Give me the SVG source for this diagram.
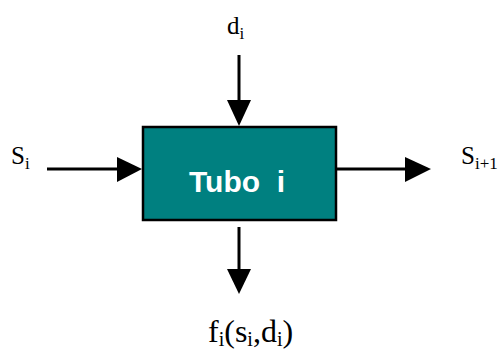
<svg xmlns="http://www.w3.org/2000/svg" width="502" height="356" viewBox="0 0 502 356">
<style>
.lbl{font-family:"Liberation Serif","Times New Roman",serif;fill:#000}
.ln{stroke:#000;stroke-width:3;fill:none}
.hd{fill:#000}
.title{font-family:"Liberation Sans",Arial,sans-serif;font-weight:bold;font-size:30px;fill:#fff}
</style>
<rect width="502" height="356" fill="#fff"/>
<g id="connectors">
<line class="ln" x1="239" y1="55" x2="239" y2="102"/>
<polygon class="hd" points="227,100 251,100 239,126"/>
<line class="ln" x1="47" y1="169" x2="119" y2="169"/>
<polygon class="hd" points="117,157 117,182 142,169"/>
<line class="ln" x1="336" y1="169" x2="407" y2="169"/>
<polygon class="hd" points="405,157 405,182 431,169"/>
<line class="ln" x1="239" y1="227" x2="239" y2="271"/>
<polygon class="hd" points="227,269 251,269 239,294"/>
</g>
<g id="tubo">
<rect x="143" y="127" width="193" height="93" fill="#008080" stroke="#000" stroke-width="2.5"/>
<text class="title" x="189" y="192" xml:space="preserve">Tubo  i</text>
</g>
<g id="d">
<text class="lbl" x="227" y="34" font-size="25">d<tspan font-size="17" dy="5">i</tspan></text>
</g>
<g id="s">
<text class="lbl" x="11" y="164" font-size="25">S<tspan font-size="17" dy="5">i</tspan></text>
</g>
<g id="s1">
<text class="lbl" x="461" y="164" font-size="25">S<tspan font-size="17" dy="5">i+1</tspan></text>
</g>
<g id="f">
<text class="lbl" x="208" y="342" font-size="32">f<tspan font-size="20" dy="4">i</tspan><tspan dy="-4">(s</tspan><tspan font-size="20" dy="4">i</tspan><tspan dy="-4">,d</tspan><tspan font-size="20" dy="4">i</tspan><tspan dy="-4">)</tspan></text>
</g>
</svg>
